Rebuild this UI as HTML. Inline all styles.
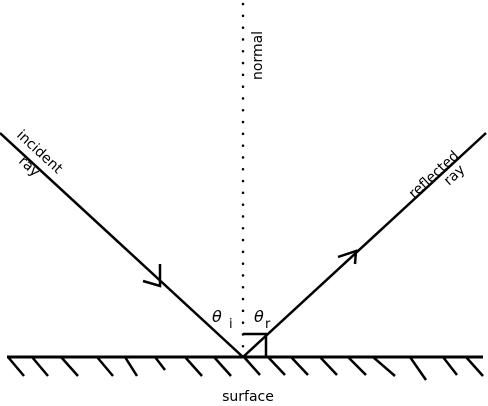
<!DOCTYPE html>
<html><head><meta charset="utf-8"><style>
html,body{margin:0;padding:0;background:#fff;}
svg{display:block;font-family:"DejaVu Sans","Liberation Sans",sans-serif;}
</style></head><body>
<svg width="488" height="406" viewBox="0 0 488 406">
<line x1="243" y1="4" x2="243" y2="357" stroke="#000" stroke-width="2.5" stroke-dasharray="0.1 11.7" stroke-linecap="round"/>
<text transform="translate(262,80) rotate(-90)" font-size="14">normal</text>
<line x1="0" y1="133" x2="243" y2="357" stroke="#000" stroke-width="2.5"/>
<polyline points="160,264 160,286 143,281" fill="none" stroke="#000" stroke-width="2.5"/>
<line x1="243" y1="357" x2="486" y2="133" stroke="#000" stroke-width="2.5"/>
<polyline points="338,257 356,251 355,264" fill="none" stroke="#000" stroke-width="2.5"/>
<polyline points="243,334 266,334 266,357" fill="none" stroke="#000" stroke-width="2.5"/>
<text transform="translate(16,136) rotate(42.7)" font-size="14">incident</text>
<text transform="translate(18,162) rotate(42.7)" font-size="14">ray</text>
<text transform="translate(414,199) rotate(-42.7)" font-size="14">reflected</text>
<text transform="translate(449,186) rotate(-42.7)" font-size="14">ray</text>
<text x="212" y="322" font-size="16" font-style="italic">θ</text>
<text x="229" y="328" font-size="13">i</text>
<text x="254" y="322" font-size="16" font-style="italic">θ</text>
<text x="265" y="328" font-size="13">r</text>
<line x1="7" y1="357" x2="483" y2="357" stroke="#000" stroke-width="3"/>
<g stroke="#000" stroke-width="2.5">
<line x1="8" y1="357" x2="24" y2="376"/><line x1="32" y1="357" x2="48" y2="376"/>
<line x1="61" y1="357" x2="78" y2="376"/><line x1="97" y1="357" x2="113" y2="376"/>
<line x1="125" y1="357" x2="137" y2="376"/><line x1="155" y1="357" x2="165" y2="370"/>
<line x1="185" y1="357" x2="202" y2="376"/><line x1="214" y1="357" x2="231" y2="376"/>
<line x1="244" y1="357" x2="260" y2="375"/><line x1="268" y1="357" x2="285" y2="375"/>
<line x1="291" y1="357" x2="308" y2="375"/><line x1="320" y1="357" x2="337" y2="375"/>
<line x1="348" y1="357" x2="366" y2="375"/><line x1="373" y1="357" x2="395" y2="376"/>
<line x1="410" y1="357" x2="426" y2="380"/><line x1="443" y1="357" x2="457" y2="375"/>
<line x1="466" y1="357" x2="483" y2="376"/>
</g>
<text x="248" y="407" font-size="14" text-anchor="middle" dy="-6">surface</text>
</svg>
</body></html>
